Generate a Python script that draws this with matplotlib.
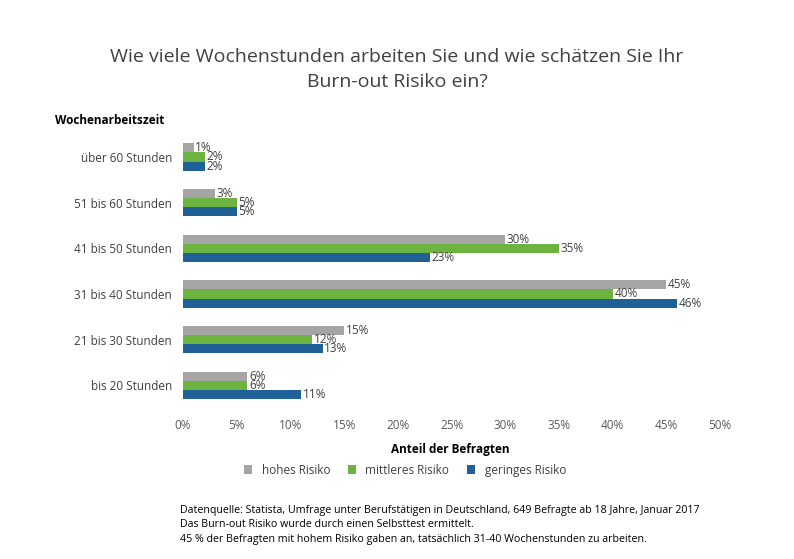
import matplotlib.pyplot as plt
import numpy as np

categories = ["über 60 Stunden", "51 bis 60 Stunden", "41 bis 50 Stunden",
              "31 bis 40 Stunden", "21 bis 30 Stunden", "bis 20 Stunden"]
hohes = [1, 3, 30, 45, 15, 6]
mittleres = [2, 5, 35, 40, 12, 6]
geringes = [2, 5, 23, 46, 13, 11]
series = [("hohes Risiko", hohes, "#a5a5a5"),
          ("mittleres Risiko", mittleres, "#6db33f"),
          ("geringes Risiko", geringes, "#1f6096")]

plt.rcParams["font.family"] = "Open Sans"
fig = plt.figure(figsize=(7.94, 5.59), dpi=100)
ax = fig.add_axes([0.2305, 0.270, 0.6765, 0.490])

y = np.arange(len(categories))
h = 0.2
for i, (name, vals, color) in enumerate(series):
    pos = y + (i - 1) * h
    ax.barh(pos, vals, height=h, color=color, label=name)
    for p, v in zip(pos, vals):
        ax.text(v + 0.15, p, f"{v}%", va="center", ha="left", fontsize=8.5, color="#404040")

ax.set_ylim(len(categories) - 0.5, -0.5)
ax.set_xlim(0, 50)
ax.set_xticks(range(0, 51, 5))
ax.set_xticklabels([f"{t}%" for t in range(0, 51, 5)], fontsize=8.5, color="#595959")
ax.set_yticks(y)
ax.set_yticklabels(categories, fontsize=8.5, color="#404040")
ax.tick_params(length=0, pad=8)
for s in ax.spines.values():
    s.set_visible(False)

fig.text(0.5, 0.875, "Wie viele Wochenstunden arbeiten Sie und wie schätzen Sie Ihr\nBurn-out Risiko ein?",
         ha="center", va="center", fontsize=14, color="#404040", linespacing=1.5)
fig.text(0.069, 0.785, "Wochenarbeitszeit", fontsize=8.5, fontweight="bold", va="center")
fig.text(0.567, 0.195, "Anteil der Befragten", fontsize=8.5, fontweight="bold", ha="center", va="center")

ax.legend(loc="center", bbox_to_anchor=(0.51, 0.159), bbox_transform=fig.transFigure,
          ncol=3, frameon=False, fontsize=8.5, handlelength=0.7, handleheight=0.7,
          columnspacing=1.5, labelcolor="#404040")

fig.text(0.227, 0.061, "Datenquelle: Statista, Umfrage unter Berufstätigen in Deutschland, 649 Befragte ab 18 Jahre, Januar 2017\n"
         "Das Burn-out Risiko wurde durch einen Selbsttest ermittelt.\n"
         "45 % der Befragten mit hohem Risiko gaben an, tatsächlich 31-40 Wochenstunden zu arbeiten.",
         fontsize=7.7, va="center", linespacing=1.45)

fig.savefig("out.png", dpi=100)
